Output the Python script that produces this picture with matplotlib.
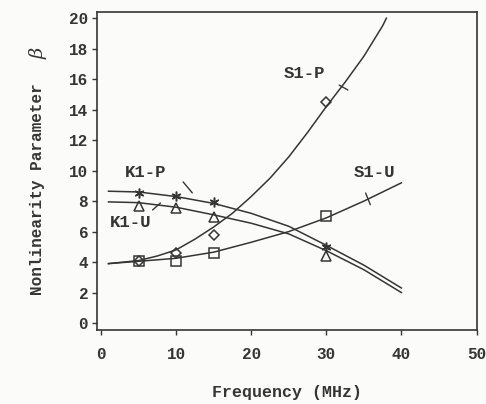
import matplotlib.pyplot as plt
import matplotlib.ticker as ticker

# measured points
freq = [5, 10, 15, 30]
k1p_pts = [8.55, 8.35, 7.95, 5.0]
k1u_pts = [7.7, 7.55, 6.95, 4.4]
s1u_pts = [4.1, 4.05, 4.6, 7.0]
s1p_pts = [4.1, 4.6, 5.8, 14.5]

# fitted curves
s1p_x = [1, 5, 7.5, 10, 12.5, 15, 17.5, 20, 22.5, 25, 27.5, 30, 32.5, 35, 37.5, 38]
s1p_y = [3.9, 4.1, 4.4, 4.8, 5.5, 6.3, 7.2, 8.3, 9.5, 10.9, 12.5, 14.2, 15.8, 17.5, 19.5, 20.0]
fit_x = [1, 5, 10, 15, 20, 25, 30, 35, 40]
s1u_y = [3.9, 4.05, 4.25, 4.65, 5.3, 6.0, 6.9, 8.0, 9.2]
k1p_y = [8.65, 8.6, 8.3, 7.85, 7.2, 6.35, 5.1, 3.8, 2.3]
k1u_y = [7.95, 7.9, 7.6, 7.1, 6.55, 5.85, 4.75, 3.5, 2.0]

INK = "#353535"
BG = "#fbfbf9"
FONT = "Liberation Mono"

fig = plt.figure(figsize=(4.86, 4.04), dpi=100, facecolor=BG)
ax = fig.add_axes([0.2, 0.183, 0.782, 0.787], facecolor=BG)

ax.plot(s1p_x, s1p_y, color=INK, lw=1.1)
for y in (s1u_y, k1p_y, k1u_y):
    ax.plot(fit_x, y, color=INK, lw=1.1)

mk = dict(linestyle="none", markerfacecolor="none", markeredgecolor=INK,
          markeredgewidth=1.1, markersize=7)
ax.plot(freq, k1p_pts, marker=(6, 2, 0), **mk)
ax.plot(freq, k1u_pts, marker="^", **mk)
ax.plot(freq, s1u_pts, marker="s", **{**mk, "markersize": 6.5})
ax.plot(freq, s1p_pts, marker="D", **{**mk, "markersize": 5.5})

lab = dict(fontfamily=FONT, fontweight="bold", fontsize=12.5, color=INK)
line = dict(arrowstyle="-", color=INK, lw=1)
ax.text(27.1, 16.4, "S1-P", ha="center", va="center", **lab)
ax.annotate("", xy=(33.2, 15.2), xytext=(31.4, 15.7), arrowprops=line)
ax.text(36.4, 9.9, "S1-U", ha="center", va="center", **lab)
ax.annotate("", xy=(36.0, 7.6), xytext=(35.1, 8.7), arrowprops=line)
ax.text(5.9, 9.9, "K1-P", ha="center", va="center", **lab)
ax.annotate("", xy=(12.4, 8.4), xytext=(10.7, 9.4), arrowprops=line)
ax.text(3.9, 6.6, "K1-U", ha="center", va="center", **lab)
ax.annotate("", xy=(8.2, 8.0), xytext=(6.6, 7.3), arrowprops=line)

ax.set_xlim(-0.5, 50.1)
ax.set_ylim(-0.46, 20.4)
ax.xaxis.set_major_locator(ticker.MultipleLocator(10))
ax.yaxis.set_major_locator(ticker.MultipleLocator(2))
ax.tick_params(direction="out", length=3.5, width=1, color=INK, labelcolor=INK,
               labelsize=11.5, pad=3)
ax.tick_params(axis="x", pad=9)
for t in ax.get_xticklabels() + ax.get_yticklabels():
    t.set_fontfamily(FONT)
    t.set_fontweight("bold")
for s in ax.spines.values():
    s.set_color(INK)
    s.set_linewidth(1.2)

ax.set_xlabel("Frequency (MHz)", fontfamily=FONT, fontweight="bold",
              fontsize=12, color=INK, labelpad=16)
fig.text(0.078, 0.532, "Nonlinearity Parameter", rotation=90, ha="center",
         va="center", fontfamily=FONT, fontweight="bold", fontsize=11.5,
         color=INK)
fig.text(0.08, 0.869, "β", rotation=90, ha="center", va="center",
         fontfamily="DejaVu Serif", fontstyle="italic", fontsize=14, color=INK)

fig.savefig("out.png", dpi=100, facecolor=fig.get_facecolor())
